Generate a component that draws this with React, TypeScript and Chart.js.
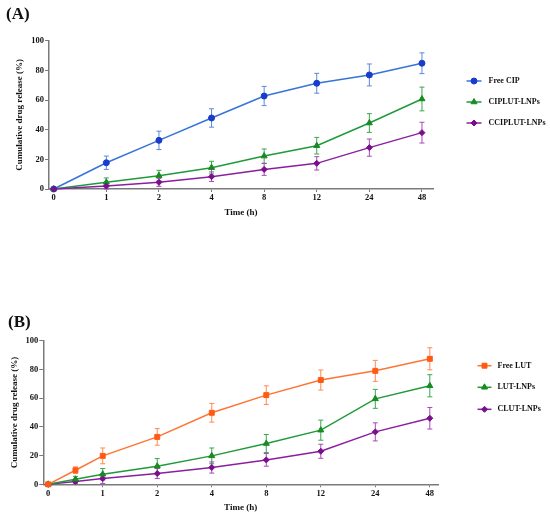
import React, { useEffect, useRef } from 'react';
import { Chart, registerables } from 'chart.js';
import { drawPoint } from 'chart.js/helpers';

Chart.register(...registerables);

const FONT = "'Liberation Serif', 'Times New Roman', serif";
const TEXT = '#111111';
const AXIS = '#7a7a7a';

// x axis ticks (equally spaced categories of time)
const xTickLabels = ['0', '1', '2', '4', '8', '12', '24', '48'];
const xTickTimes = [0, 1, 2, 4, 8, 12, 24, 48];

// Panel A
const timesA = [0, 1, 2, 4, 8, 12, 24, 48];
const freeCIP = [0, 17.7, 32.8, 47.9, 62.7, 71.3, 76.9, 84.8];
const freeCIPErr = [0, 4.5, 6.2, 6.2, 6.5, 6.7, 7.4, 7];
const ciplutLNPs = [0, 4.5, 9, 14.4, 22.2, 29.2, 44.5, 60.7];
const ciplutLNPsErr = [0, 3, 3.6, 4.3, 4.8, 5.6, 6.3, 8];
const cciplutLNPs = [0, 2, 4.5, 8.3, 13.2, 17.3, 27.9, 38];
const cciplutLNPsErr = [0, 2, 2.7, 3.2, 4, 4.5, 5.8, 7];

// Panel B
const timesB = [0, 0.5, 1, 2, 4, 8, 12, 24, 48];
const freeLUT = [0, 9.8, 19.8, 33, 49.8, 62.1, 72.6, 79, 87.4];
const freeLUTErr = [0, 2.3, 5.5, 5.8, 6.5, 6.5, 7, 7.3, 7.7];
const lutLNPs = [0, 3.5, 7, 12.6, 19.8, 28.4, 37.7, 59.5, 68.6];
const lutLNPsErr = [0, 2, 4, 5.3, 5.5, 6.3, 7, 6.6, 7.7];
const clutLNPs = [0, 2, 4, 7.5, 11.7, 17, 23, 36.5, 46];
const clutLNPsErr = [0, 1.5, 3.5, 3.5, 3.9, 4.4, 4.9, 6.3, 7.5];

const yTitle = 'Cumulative drug release (%)';
const xTitle = 'Time (h)';

// map a time value onto the equally spaced tick axis
function timeToPos(t: number): number {
  for (let i = 0; i < xTickTimes.length - 1; i++) {
    if (t <= xTickTimes[i + 1]) {
      return i + (t - xTickTimes[i]) / (xTickTimes[i + 1] - xTickTimes[i]);
    }
  }
  return xTickTimes.length - 1;
}

function series(times: number[], vals: number[]) {
  return vals.map((v, i) => ({ x: timeToPos(times[i]), y: v }));
}

const errorBarPlugin = {
  id: 'errorBars',
  beforeDatasetsDraw(chart: any) {
    const ctx = chart.ctx;
    const yScale = chart.scales.y;
    chart.data.datasets.forEach((ds: any, i: number) => {
      const meta = chart.getDatasetMeta(i);
      const errs = ds.errors;
      if (!errs) return;
      ctx.save();
      ctx.strokeStyle = ds.errorColor;
      ctx.lineWidth = 1;
      meta.data.forEach((pt: any, j: number) => {
        const e = errs[j];
        if (!e) return;
        const v = ds.data[j].y;
        const yTop = yScale.getPixelForValue(v + e);
        const yBot = yScale.getPixelForValue(v - e);
        const x = pt.x;
        ctx.beginPath();
        ctx.moveTo(x, yTop);
        ctx.lineTo(x, yBot);
        ctx.moveTo(x - 2.5, yTop);
        ctx.lineTo(x + 2.5, yTop);
        ctx.moveTo(x - 2.5, yBot);
        ctx.lineTo(x + 2.5, yBot);
        ctx.stroke();
      });
      ctx.restore();
    });
  },
};

function makeLegendPlugin(lx1: number, lx2: number, tx: number, rows: number[]) {
  return {
    id: 'sideLegend',
    afterDraw(chart: any) {
      const ctx = chart.ctx;
      ctx.save();
      chart.data.datasets.forEach((ds: any, i: number) => {
        const y = rows[i];
        ctx.strokeStyle = ds.borderColor;
        ctx.lineWidth = 1.5;
        ctx.beginPath();
        ctx.moveTo(lx1, y);
        ctx.lineTo(lx2, y);
        ctx.stroke();
        ctx.fillStyle = ds.pointBackgroundColor;
        ctx.strokeStyle = ds.pointBorderColor;
        ctx.lineWidth = 1;
        drawPoint(ctx, { pointStyle: ds.pointStyle, radius: ds.pointRadius, rotation: 0, borderWidth: 1 }, (lx1 + lx2) / 2, y);
        ctx.fillStyle = TEXT;
        ctx.font = `bold 8px ${FONT}`;
        ctx.textBaseline = 'middle';
        ctx.textAlign = 'left';
        ctx.fillText(ds.label, tx, y);
      });
      ctx.restore();
    },
  };
}

function ds(label: string, data: any[], errors: number[], line: string, marker: string, err: string, style: string, radius: number, order: number) {
  return {
    label,
    data,
    errors,
    errorColor: err,
    borderColor: line,
    borderWidth: 1.5,
    pointStyle: style,
    pointRadius: radius,
    pointBackgroundColor: marker,
    pointBorderColor: marker,
    pointBorderWidth: 1,
    tension: 0,
    clip: false,
    order,
  };
}

function makeConfig(p: any) {
  const tickFont = { family: FONT, size: 8.5, weight: 'bold' as const };
  const titleFont = { family: FONT, size: 9, weight: 'bold' as const, lineHeight: 1 };
  return {
    type: 'line',
    data: { datasets: p.datasets },
    options: {
      responsive: false,
      animation: false,
      events: [],
      layout: { padding: p.padding },
      plugins: { legend: { display: false }, tooltip: { enabled: false } },
      scales: {
        x: {
          type: 'linear',
          min: p.xMin,
          max: p.xMax,
          afterBuildTicks: (s: any) => {
            s.ticks = xTickLabels.map((_, i) => ({ value: i }));
          },
          afterFit: (s: any) => {
            s.height = p.xH;
          },
          ticks: {
            callback: (v: any) => xTickLabels[v] ?? '',
            font: tickFont,
            color: TEXT,
            padding: 1,
            maxRotation: 0,
            autoSkip: false,
          },
          grid: { drawOnChartArea: false, drawTicks: true, tickLength: 3, color: AXIS, lineWidth: 1 },
          border: { display: true, color: AXIS, width: 1.5 },
          title: { display: true, text: xTitle, font: titleFont, color: TEXT, padding: 0 },
        },
        y: {
          min: 0,
          max: 100,
          afterFit: (s: any) => {
            s.width = p.yW;
          },
          ticks: { stepSize: 20, font: tickFont, color: TEXT, padding: 1 },
          grid: { drawOnChartArea: false, drawTicks: true, tickLength: 4, color: AXIS, lineWidth: 1 },
          border: { display: true, color: AXIS, width: 1.5 },
          title: { display: true, text: yTitle, font: titleFont, color: TEXT, padding: 0 },
        },
      },
    },
    plugins: [errorBarPlugin, makeLegendPlugin(p.lx1, p.lx2, p.tx, p.rows)],
  };
}

function Panel({ top, height, params }: { top: number; height: number; params: any }) {
  const ref = useRef<HTMLCanvasElement | null>(null);
  useEffect(() => {
    if (!ref.current) return;
    const chart = new Chart(ref.current, makeConfig(params) as any);
    return () => chart.destroy();
  }, []);
  return (
    <canvas
      ref={ref}
      width={550}
      height={height}
      style={{ position: 'absolute', left: 0, top, width: 550, height }}
    />
  );
}

const paramsA = {
  datasets: [
    ds('Free CIP', series(timesA, freeCIP), freeCIPErr, '#3574d8', '#1a3ccc', '#5a8ad8', 'circle', 3, 3),
    ds('CIPLUT-LNPs', series(timesA, ciplutLNPs), ciplutLNPsErr, '#1f9a3a', '#178a22', '#3aa552', 'triangle', 3.5, 2),
    ds('CCIPLUT-LNPs', series(timesA, cciplutLNPs), cciplutLNPsErr, '#8a1f9e', '#7a0e8e', '#a54ab5', 'rectRot', 3, 1),
  ],
  padding: { left: 15.5, right: 117, top: 40.7, bottom: 42.5 },
  yW: 33.5,
  xH: 28.5,
  xMin: -0.09,
  xMax: 7.21,
  lx1: 466.5,
  lx2: 481.5,
  tx: 488.5,
  rows: [81, 102, 123],
};

const paramsB = {
  datasets: [
    ds('Free LUT', series(timesB, freeLUT), freeLUTErr, '#ff7433', '#ff5a14', '#ff8a50', 'rect', 3.5, 1),
    ds('LUT-LNPs', series(timesB, lutLNPs), lutLNPsErr, '#1f9a3a', '#178a22', '#3aa552', 'triangle', 3.5, 2),
    ds('CLUT-LNPs', series(timesB, clutLNPs), clutLNPsErr, '#8a1f9e', '#7a0e8e', '#a54ab5', 'rectRot', 3, 3),
  ],
  padding: { left: 10.5, right: 112, top: 50.7, bottom: 5.2 },
  yW: 32.8,
  xH: 27.5,
  xMin: -0.09,
  xMax: 7.15,
  lx1: 477.5,
  lx2: 491.5,
  tx: 497.5,
  rows: [75.7, 97.3, 119.3],
};

const labelStyle: React.CSSProperties = {
  position: 'absolute',
  fontFamily: FONT,
  fontWeight: 'bold',
  fontSize: 17,
  lineHeight: '17px',
  color: TEXT,
};

export default function App() {
  return (
    <div style={{ position: 'absolute', left: 0, top: 0, width: 550, height: 517, background: '#fff', overflow: 'hidden' }}>
      <Panel top={0} height={260} params={paramsA} />
      <Panel top={290} height={227} params={paramsB} />
      <div style={{ ...labelStyle, left: 6, top: 5 }}>(A)</div>
      <div style={{ ...labelStyle, left: 8, top: 313 }}>(B)</div>
    </div>
  );
}
